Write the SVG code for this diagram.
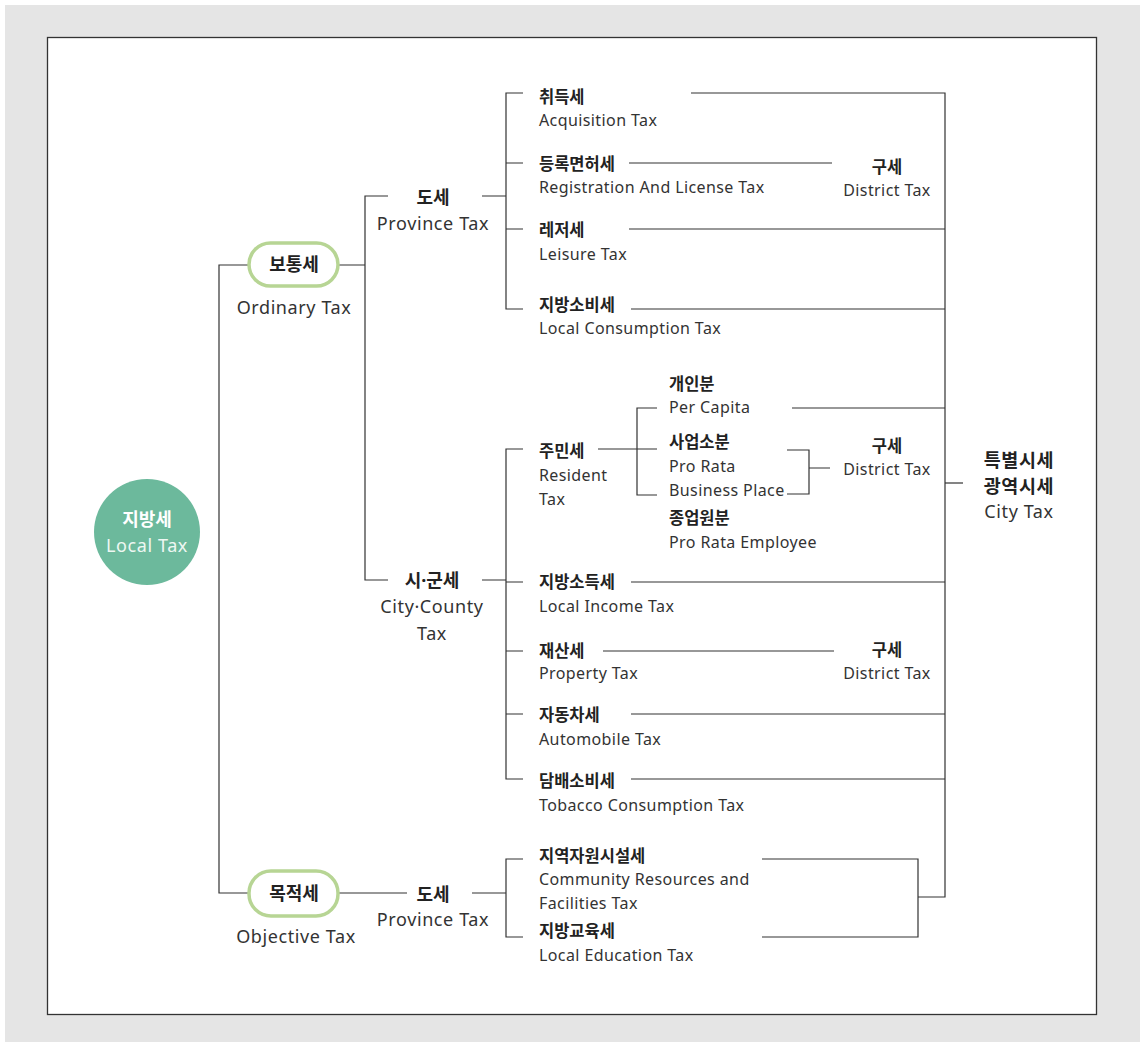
<svg xmlns="http://www.w3.org/2000/svg" width="1144" height="1042" viewBox="0 0 1144 1042">
<style>
text{font-family:"Noto Sans CJK KR","Noto Sans",sans-serif;fill:#333}
.ko{font-size:16.5px;font-weight:700;fill:#222}
.en{font-size:16px;font-weight:400;letter-spacing:.4px;font-family:"Noto Sans","Noto Sans CJK KR",sans-serif}
.ko18{font-size:18px;font-weight:700;fill:#222}
.en18{font-size:18px;font-weight:400;letter-spacing:.6px;font-family:"Noto Sans","Noto Sans CJK KR",sans-serif}
.big{font-size:18.5px;letter-spacing:.6px}
.dot{font-family:"Noto Sans",sans-serif}
.c{text-anchor:middle}
.ln{stroke:#333;stroke-width:1.2;fill:none}
.pill{fill:#fff;stroke:#b7d594;stroke-width:3.5}
</style>
<rect x="0" y="0" width="1144" height="1042" fill="#fff"/>
<rect x="5" y="5" width="1135" height="1037" fill="#e5e5e5"/>
<rect x="47.5" y="37.5" width="1049" height="977" fill="#fff" stroke="#333" stroke-width="1.3"/>

<g id="connectors" class="ln">
<path d="M249 265H219V893H249"/>
<path d="M338 265H365M388 196H365V580H388"/>
<path d="M482 196H506M523 93H506V309H523M506 163H523M506 229H523"/>
<path d="M691 93H945V897H918M629 163H832M629 229H945M631 309H945"/>
<path d="M482 580H506M523 449H506V779H523M506 582H523M506 651H523M506 714H523"/>
<path d="M598 449H657M657 408H637V495H657"/>
<path d="M792 408H945M787 450H809V494H787M809 468H830"/>
<path d="M963 483H945"/>
<path d="M631 582H945M603 651H834M631 714H945M631 779H945"/>
<path d="M338 893H407M472 893H506M523 859H506V937H523"/>
<path d="M762 859H918V937H762"/>
</g>

<g id="local-tax">
<circle cx="147" cy="532" r="53" fill="#6cb99c"/>
<text x="147" y="526" class="ko18 c" style="fill:#fff">지방세</text>
<text x="147" y="552" class="en18 c" style="fill:#eef7f2">Local Tax</text>
</g>

<g id="ordinary-tax">
<rect x="249" y="243" width="89" height="43" rx="21.5" class="pill"/>
<text x="294" y="271" class="ko18 c">보통세</text>
<text x="294" y="314" class="en18 c">Ordinary Tax</text>
</g>
<g id="objective-tax">
<rect x="249" y="871" width="89" height="45" rx="22" class="pill"/>
<text x="294" y="900" class="ko18 c">목적세</text>
<text x="296" y="943" class="en18 c">Objective Tax</text>
</g>

<g id="province-tax-1">
<text x="433" y="204" class="ko18 c">도세</text>
<text x="433" y="230" class="en18 c">Province Tax</text>
</g>
<g id="city-county-tax">
<text x="432" y="587" class="ko18 c">시<tspan class="dot">·</tspan>군세</text>
<text x="432" y="613" class="en18 c">City·County</text>
<text x="432" y="640" class="en18 c">Tax</text>
</g>
<g id="province-tax-2">
<text x="433" y="901" class="ko18 c">도세</text>
<text x="433" y="926" class="en18 c">Province Tax</text>
</g>

<g id="acquisition"><text x="539" y="103" class="ko">취득세</text><text x="539" y="126" class="en">Acquisition Tax</text></g>
<g id="registration"><text x="539" y="170" class="ko">등록면허세</text><text x="539" y="193" class="en">Registration And License Tax</text></g>
<g id="leisure"><text x="539" y="236" class="ko">레저세</text><text x="539" y="260" class="en">Leisure Tax</text></g>
<g id="local-consumption"><text x="539" y="311" class="ko">지방소비세</text><text x="539" y="334" class="en">Local Consumption Tax</text></g>

<g id="district-1"><text x="887" y="173" class="ko c">구세</text><text x="887" y="196" class="en c">District Tax</text></g>

<g id="resident"><text x="539" y="457" class="ko">주민세</text><text x="539" y="481" class="en">Resident</text><text x="539" y="505" class="en">Tax</text></g>
<g id="per-capita"><text x="669" y="390" class="ko">개인분</text><text x="669" y="413" class="en">Per Capita</text></g>
<g id="business-place"><text x="669" y="448" class="ko">사업소분</text><text x="669" y="472" class="en">Pro Rata</text><text x="669" y="496" class="en">Business Place</text></g>
<g id="employee"><text x="669" y="524" class="ko">종업원분</text><text x="669" y="548" class="en">Pro Rata Employee</text></g>
<g id="district-2"><text x="887" y="452" class="ko c">구세</text><text x="887" y="475" class="en c">District Tax</text></g>

<g id="city-tax">
<text x="1019" y="467" class="ko18 big c">특별시세</text>
<text x="1019" y="493" class="ko18 big c">광역시세</text>
<text x="1019" y="518" class="en18 c">City Tax</text>
</g>

<g id="local-income"><text x="539" y="588" class="ko">지방소득세</text><text x="539" y="612" class="en">Local Income Tax</text></g>
<g id="property"><text x="539" y="657" class="ko">재산세</text><text x="539" y="679" class="en">Property Tax</text></g>
<g id="district-3"><text x="887" y="656" class="ko c">구세</text><text x="887" y="679" class="en c">District Tax</text></g>
<g id="automobile"><text x="539" y="721" class="ko">자동차세</text><text x="539" y="745" class="en">Automobile Tax</text></g>
<g id="tobacco"><text x="539" y="787" class="ko">담배소비세</text><text x="539" y="811" class="en">Tobacco Consumption Tax</text></g>

<g id="community"><text x="539" y="862" class="ko">지역자원시설세</text><text x="539" y="885" class="en">Community Resources and</text><text x="539" y="909" class="en">Facilities Tax</text></g>
<g id="local-education"><text x="539" y="937" class="ko">지방교육세</text><text x="539" y="961" class="en">Local Education Tax</text></g>
</svg>
